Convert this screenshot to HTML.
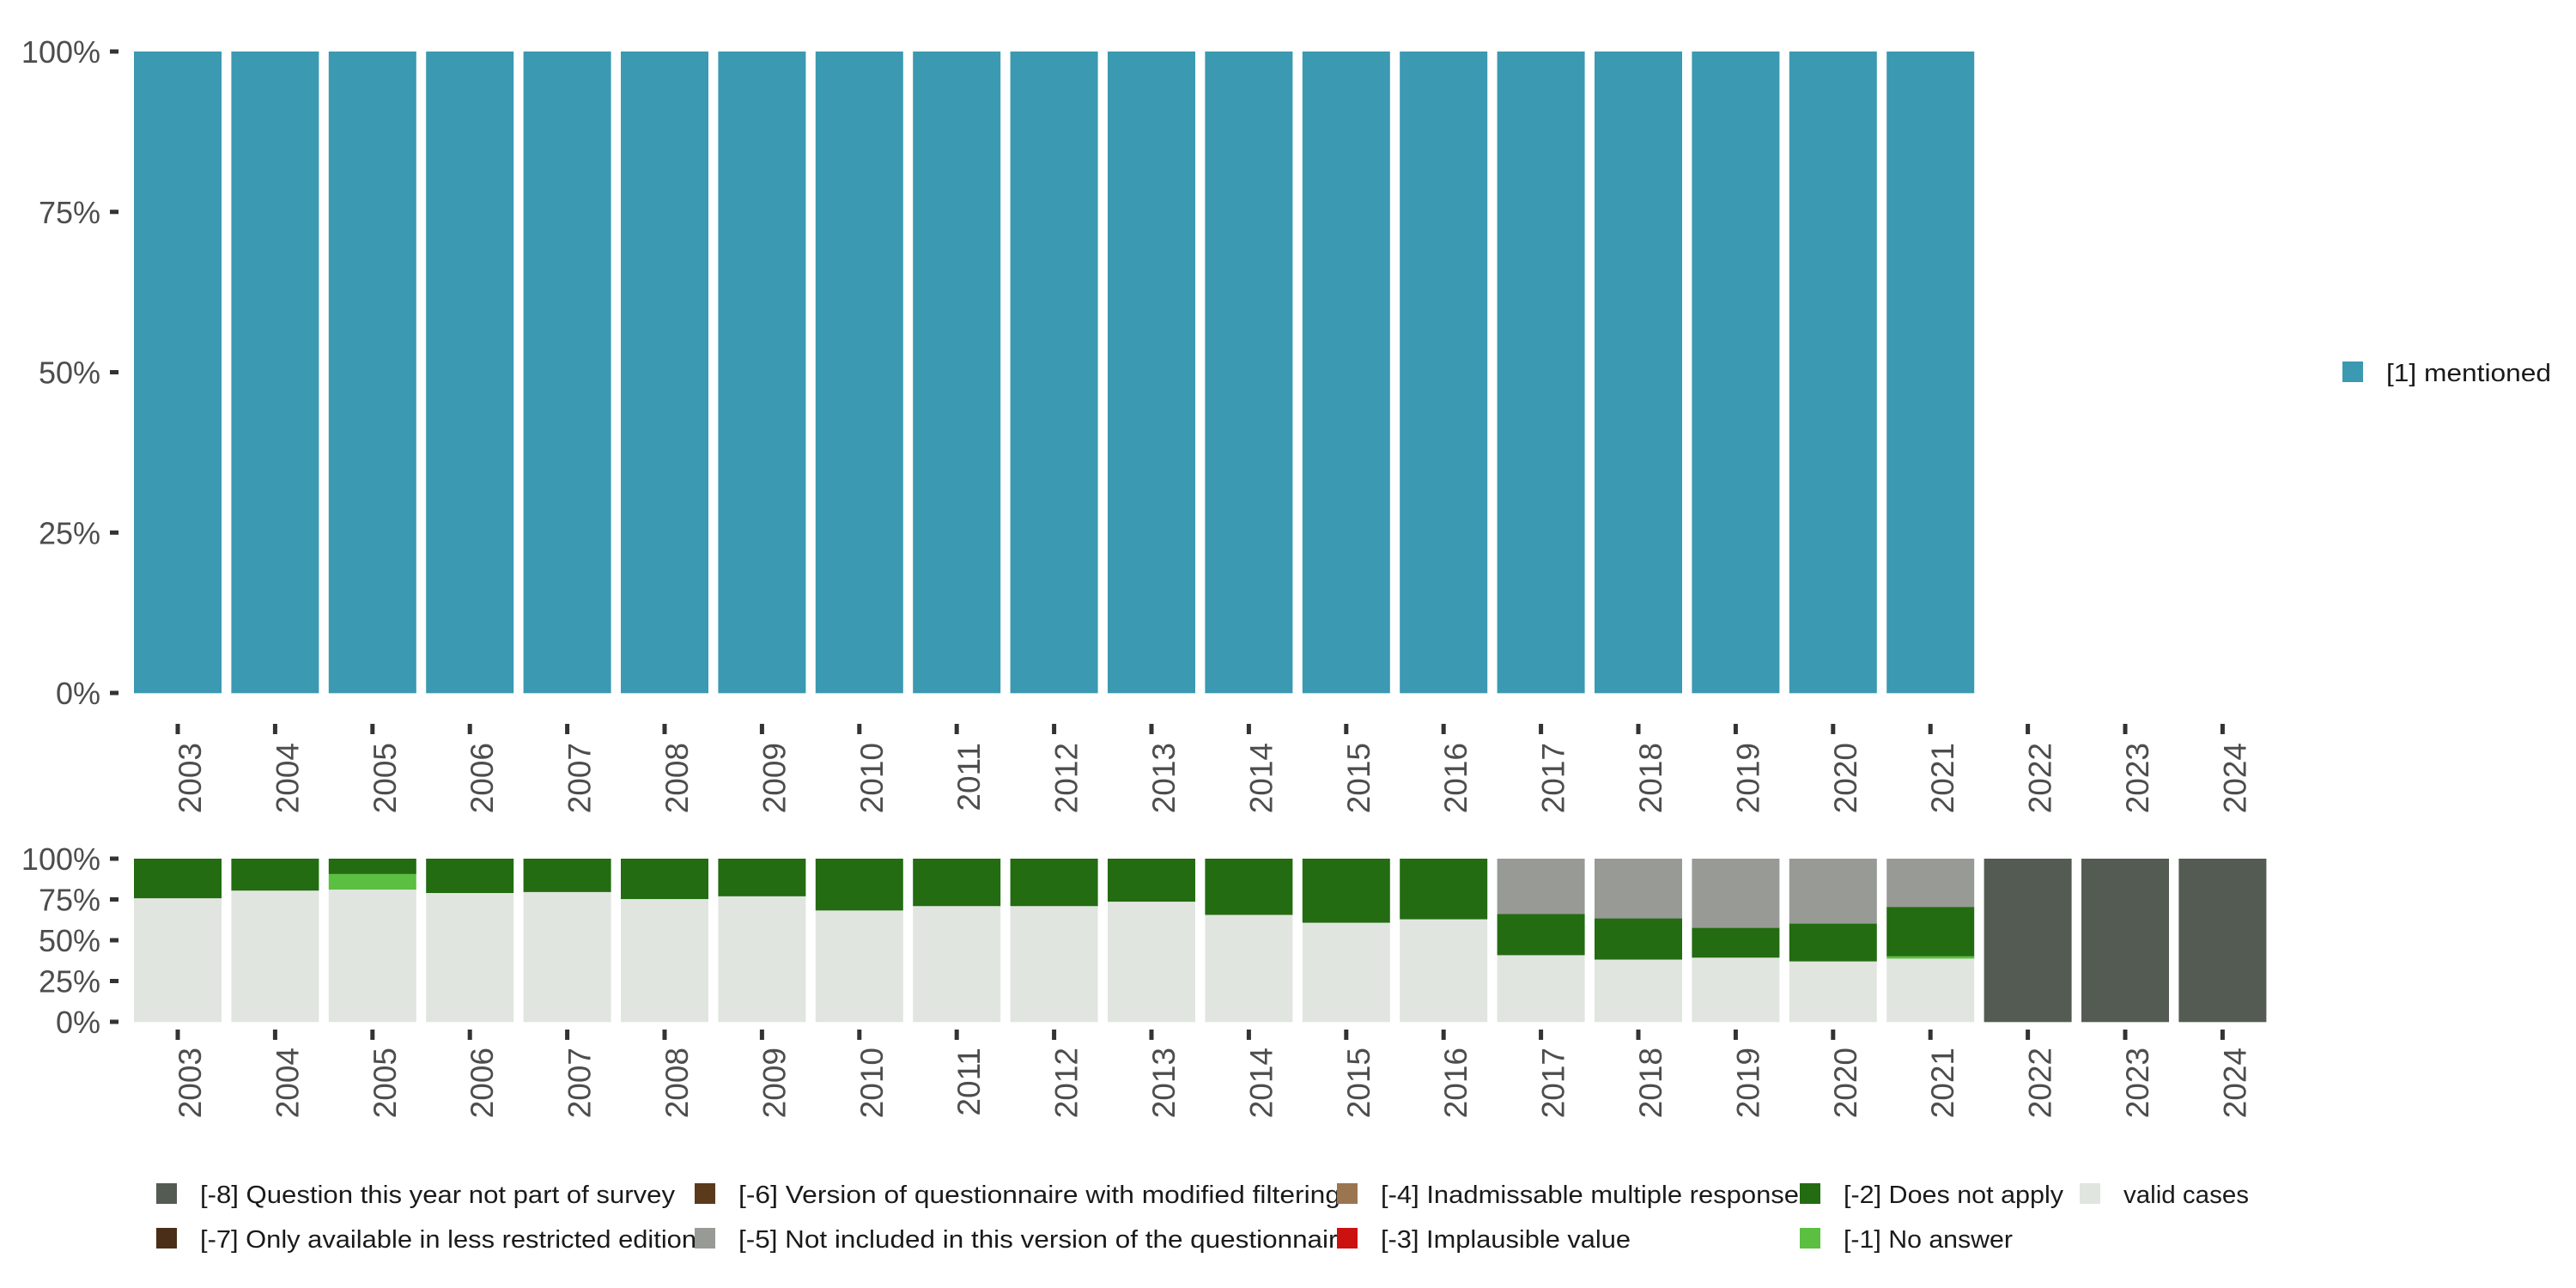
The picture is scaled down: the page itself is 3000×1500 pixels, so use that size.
<!DOCTYPE html>
<html><head><meta charset="utf-8"><style>
html,body{margin:0;padding:0;background:#fff;}
svg{display:block;font-family:"Liberation Sans",sans-serif;}
</style></head><body>
<svg id="chart" width="3000" height="1500" viewBox="0 0 3000 1500" xmlns="http://www.w3.org/2000/svg">
<g id="top"></g>
<g id="bot"></g>
<g id="leg"></g>
</svg>
<script>
const years = ["2003","2004","2005","2006","2007","2008","2009","2010","2011","2012","2013","2014","2015","2016","2017","2018","2019","2020","2021","2022","2023","2024"];
const mentioned = [100,100,100,100,100,100,100,100,100,100,100,100,100,100,100,100,100,100,100,0,0,0];
const validCases = [75.9,80.6,81.2,79.1,79.7,75.4,77.1,68.4,71.1,71.1,73.8,65.7,60.9,63.0,41.0,38.3,39.5,37.2,38.9,0,0,0];
const noAnswer = [0,0,9.6,0,0,0,0,0,0,0,0,0,0,0,0,0,0,0,1.5,0,0,0];
const doesNotApply = [24.1,19.4,9.2,20.9,20.3,24.6,22.9,31.6,28.9,28.9,26.2,34.3,39.1,37.0,25.2,25.2,18.2,23.1,30.1,0,0,0];
const notIncluded = [0,0,0,0,0,0,0,0,0,0,0,0,0,0,33.8,36.5,42.3,39.7,29.5,0,0,0];
const notPartOfSurvey = [0,0,0,0,0,0,0,0,0,0,0,0,0,0,0,0,0,0,0,100,100,100];
const yTicks = [0,25,50,75,100];
const yTickLabels = ["0%","25%","50%","75%","100%"];

const NS="http://www.w3.org/2000/svg";
function mk(tag,attrs,parent,txt){const e=document.createElementNS(NS,tag);for(const k in attrs)e.setAttribute(k,attrs[k]);if(txt!==undefined)e.textContent=txt;parent.appendChild(e);return e;}
const step=113.4, x0=207, bw=102;
function xc(i){return x0+i*step;}
function panel(g,y0,y100,tickTop,labTop,series){
  const ys=v=>y0-(y0-y100)*v/100;
  yTicks.forEach((t,k)=>{
    const y=ys(t);
    const r=mk('rect',{x:128,y:y-2.5,width:10,height:5,fill:'#333'},g);
    
    
    const tx=mk('text',{x:117,y:y+13,'text-anchor':'end','font-size':36,fill:'#4d4d4d'},g,yTickLabels[k]);
    
    
  });
  years.forEach((yr,i)=>{
    let cum=0;
    series.forEach(s=>{
      const v=s.vals[i]; if(v<=0)return;
      const r=mk('rect',{x:xc(i)-bw/2,y:ys(cum+v),width:bw,height:ys(cum)-ys(cum+v)+0.3,fill:s.color},g);
      
      
      cum+=v;
    });
    const tk=mk('rect',{x:xc(i)-2.5,y:tickTop,width:5,height:12,fill:'#333'},g);
    
    
    const lb=mk('text',{transform:`translate(${xc(i)+27},${labTop}) rotate(-90)`,'text-anchor':'end','font-size':37,fill:'#4d4d4d'},g,yr);
    
    
  });
}
panel(document.getElementById('top'),807,60,843,865,[{name:'mentioned',vals:mentioned,color:'#3B99B1'}]);
panel(document.getElementById('bot'),1190,1000,1199,1220,[
  {name:'valid',vals:validCases,color:'#E1E5E0'},
  {name:'no-answer',vals:noAnswer,color:'#5BBF41'},
  {name:'does-not-apply',vals:doesNotApply,color:'#236C11'},
  {name:'not-included',vals:notIncluded,color:'#989B95'},
  {name:'not-part',vals:notPartOfSurvey,color:'#545B53'}
]);
const leg=document.getElementById('leg');
const items=[
 [2728,421,'#3B99B1','[1] mentioned',192],
 [182,1378,'#545B53','[-8] Question this year not part of survey',553],
 [182,1430,'#4A2E17','[-7] Only available in less restricted edition',578],
 [809,1378,'#5A3A1A','[-6] Version of questionnaire with modified filtering',701],
 [809,1430,'#989B95','[-5] Not included in this version of the questionnaire',715],
 [1557,1378,'#9A7550','[-4] Inadmissable multiple response',487],
 [1557,1430,'#CC1111','[-3] Implausible value',291],
 [2096,1378,'#236C11','[-2] Does not apply',256],
 [2096,1430,'#5BBF41','[-1] No answer',197],
 [2422,1378,'#E1E5E0','valid cases',146]
];
items.forEach(it=>{
  const k=mk('rect',{x:it[0],y:it[1],width:24,height:24,fill:it[2]},leg);
  
  
  const t=mk('text',{x:it[0]+51,y:it[1]+23,'font-size':29,fill:'#1a1a1a',textLength:it[4],lengthAdjust:'spacingAndGlyphs'},leg,it[3]);
  
  
});
</script>
</body></html>
